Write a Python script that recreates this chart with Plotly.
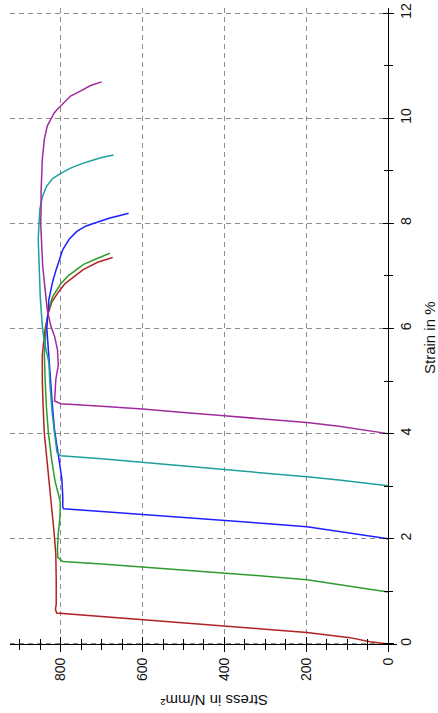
import plotly.graph_objects as go

# ---------------- data ----------------
strain_red = [0.00, 0.04, 0.12, 0.18, 0.22, 0.28, 0.34, 0.40, 0.46, 0.51, 0.57, 0.59, 0.66, 0.75, 1.20, 1.70,
              2.10, 2.50, 3.10, 3.40, 4.00, 4.50, 5.00, 5.50, 6.00, 6.30, 6.50, 6.70, 6.85, 7.00, 7.12,
              7.26, 7.35]
stress_red = [0, 44, 93, 150, 198, 300, 400, 500, 600, 700, 800, 810, 813, 811, 811, 812,
              816, 821, 829, 833, 840, 843, 845, 845, 838, 830, 822, 805, 790, 765, 745,
              710, 673]

strain_green = [0.99, 1.04, 1.09, 1.22, 1.29, 1.35, 1.41, 1.47, 1.52, 1.57, 1.64, 1.80, 2.10, 2.40, 2.70,
                3.10, 3.50, 4.00, 4.50, 5.00, 5.50, 6.00, 6.36, 6.60, 6.85, 7.00, 7.12, 7.22, 7.33, 7.43]
stress_green = [0, 44, 93, 198, 300, 400, 500, 600, 700, 795, 807, 808, 806, 802, 801,
                814, 822, 830, 835, 838, 840, 836, 830, 820, 800, 782, 762, 744, 711, 680]

strain_blue = [2.00, 2.05, 2.11, 2.23, 2.29, 2.35, 2.41, 2.47, 2.52, 2.57, 2.61, 2.80, 3.12, 3.45, 4.06,
               4.50, 5.03, 5.50, 6.00, 6.55, 6.88, 7.10, 7.30, 7.50, 7.70, 7.85, 7.95, 8.04, 8.10,
               8.15, 8.19]
stress_blue = [0, 44, 93, 198, 300, 400, 500, 600, 700, 793, 795, 795, 797, 803, 815,
               820, 825, 830, 834, 829, 820, 812, 803, 795, 779, 760, 738, 705, 680,
               655, 634]

strain_teal = [3.01, 3.06, 3.12, 3.18, 3.25, 3.32, 3.39, 3.45, 3.52, 3.58, 3.64, 4.00, 4.40, 4.90, 5.35,
               5.79, 6.04, 6.60, 7.18, 7.70, 8.00, 8.27, 8.50, 8.70, 8.85, 8.95, 9.05, 9.13, 9.20,
               9.25, 9.30]
stress_teal = [0, 50, 120, 198, 300, 400, 500, 600, 700, 800, 809, 815, 821, 826, 829,
               841, 845, 850, 853, 855, 853, 851, 845, 835, 820, 800, 776, 750, 722,
               700, 671]

strain_purple = [4.00, 4.06, 4.14, 4.21, 4.28, 4.34, 4.40, 4.47, 4.52, 4.57, 4.62, 5.03, 5.30, 5.60, 5.85,
                 6.04, 6.36, 6.86, 7.18, 7.50, 8.00, 8.27, 8.60, 9.22, 9.60, 9.85, 9.98, 10.10, 10.17,
                 10.23, 10.33, 10.42, 10.52, 10.62, 10.69]
stress_purple = [0, 50, 120, 198, 300, 400, 500, 600, 700, 800, 815, 812, 806, 808, 815,
                 824, 833, 840, 844, 846, 849, 848, 848, 845, 840, 833, 825, 816, 808,
                 800, 788, 776, 751, 727, 700]

series_colors = ["#B22222", "#2E9B2E", "#2020FF", "#1E9E9E", "#A02BA0"]

stress_major = [0, 200, 400, 600, 800]
strain_major = [0, 2, 4, 6, 8, 10, 12]

# ---------------- layout constants ----------------
W, H = 438, 713
L, R, T, B = 10, 41, 8, 63
x_range = [924, -22]        # stress, reversed (0 on the right)
y_range = [-0.115, 12.095]  # strain

pw, ph = W - L - R, H - T - B
pos_xaxis = (0 - y_range[0]) / (y_range[1] - y_range[0])
pos_yaxis = (x_range[0] - 0) / (x_range[0] - x_range[1])

FONT = "Liberation Sans, Arial, sans-serif"
grid_col = "#8c8c8c"

fig = go.Figure()
curves = [(strain_red, stress_red), (strain_green, stress_green), (strain_blue, stress_blue),
          (strain_teal, stress_teal), (strain_purple, stress_purple)]
for (s, st), c in zip(curves, series_colors):
    fig.add_trace(go.Scatter(x=st, y=s, mode="lines", line=dict(color=c, width=1.5),
                             showlegend=False, hoverinfo="skip"))

# invisible helper trace so the inner-tick axes are drawn
fig.add_trace(go.Scatter(x=stress_red[:1], y=strain_red[:1], xaxis="x2", yaxis="y2", mode="markers",
                         marker=dict(opacity=0), showlegend=False, hoverinfo="skip"))

common_tick = dict(tickcolor="black", tickwidth=1.2)

fig.update_layout(
    width=W, height=H,
    margin=dict(l=L, r=R, t=T, b=B, autoexpand=False),
    paper_bgcolor="white", plot_bgcolor="white",
    font=dict(family=FONT, color="#111111"),
    xaxis=dict(range=x_range, domain=[0, 1], anchor="free", position=pos_xaxis, automargin=False,
               showline=True, linecolor="black", linewidth=1.3, zeroline=False,
               tickmode="array", tickvals=stress_major, ticktext=[str(v) for v in stress_major],
               ticks="outside", ticklen=7, **common_tick,
               tickangle=-90, tickfont=dict(size=14, family=FONT, color="#111111"),
               ticklabelstandoff=0,
               showgrid=True, gridcolor=grid_col, gridwidth=1.1, griddash="5px,4px",
               minor=dict(dtick=50, tick0=0, ticks="outside", ticklen=5, tickcolor="black",
                          tickwidth=1.2, showgrid=False)),
    xaxis2=dict(range=x_range, domain=[0, 1], anchor="free", position=pos_xaxis, overlaying="x",
                automargin=False,
                showline=False, zeroline=False, showgrid=False, showticklabels=False,
                tickmode="array", tickvals=stress_major,
                ticks="inside", ticklen=7, **common_tick,
                minor=dict(dtick=50, tick0=0, ticks="inside", ticklen=5, tickcolor="black",
                           tickwidth=1.2, showgrid=False)),
    yaxis=dict(range=y_range, domain=[0, 1], anchor="free", position=pos_yaxis, side="right",
               automargin=False,
               showline=True, linecolor="black", linewidth=1.3, zeroline=False,
               tickmode="array", tickvals=strain_major, ticktext=[str(v) for v in strain_major],
               ticks="outside", ticklen=5, **common_tick,
               tickangle=-90, tickfont=dict(size=14, family=FONT, color="#111111"),
               ticklabelstandoff=0,
               showgrid=True, gridcolor=grid_col, gridwidth=1.1, griddash="5px,4px",
               minor=dict(dtick=1, tick0=0, ticks="outside", ticklen=4, tickcolor="black",
                          tickwidth=1.2, showgrid=False)),
    yaxis2=dict(range=y_range, domain=[0, 1], anchor="free", position=pos_yaxis, side="right",
                overlaying="y", automargin=False,
                showline=False, zeroline=False, showgrid=False, showticklabels=False,
                tickmode="array", tickvals=strain_major,
                ticks="inside", ticklen=5, **common_tick,
                minor=dict(dtick=1, tick0=0, ticks="inside", ticklen=4, tickcolor="black",
                           tickwidth=1.2, showgrid=False)),
    annotations=[
        dict(text="Stress in N/mm²", xref="paper", yref="paper",
             x=(214 - L) / pw, y=(H - B - 701) / ph, textangle=180,
             showarrow=False, xanchor="center", yanchor="middle",
             font=dict(size=15, family=FONT, color="#111111")),
        dict(text="Strain in %", xref="paper", yref="paper",
             x=(430 - L) / pw, y=(H - B - 338) / ph, textangle=-90,
             showarrow=False, xanchor="center", yanchor="middle",
             font=dict(size=15, family=FONT, color="#111111")),
    ],
)

fig.write_html("out.html", config={"displayModeBar": False},
               post_script="document.body.style.margin='0';document.body.style.overflow='hidden';")
